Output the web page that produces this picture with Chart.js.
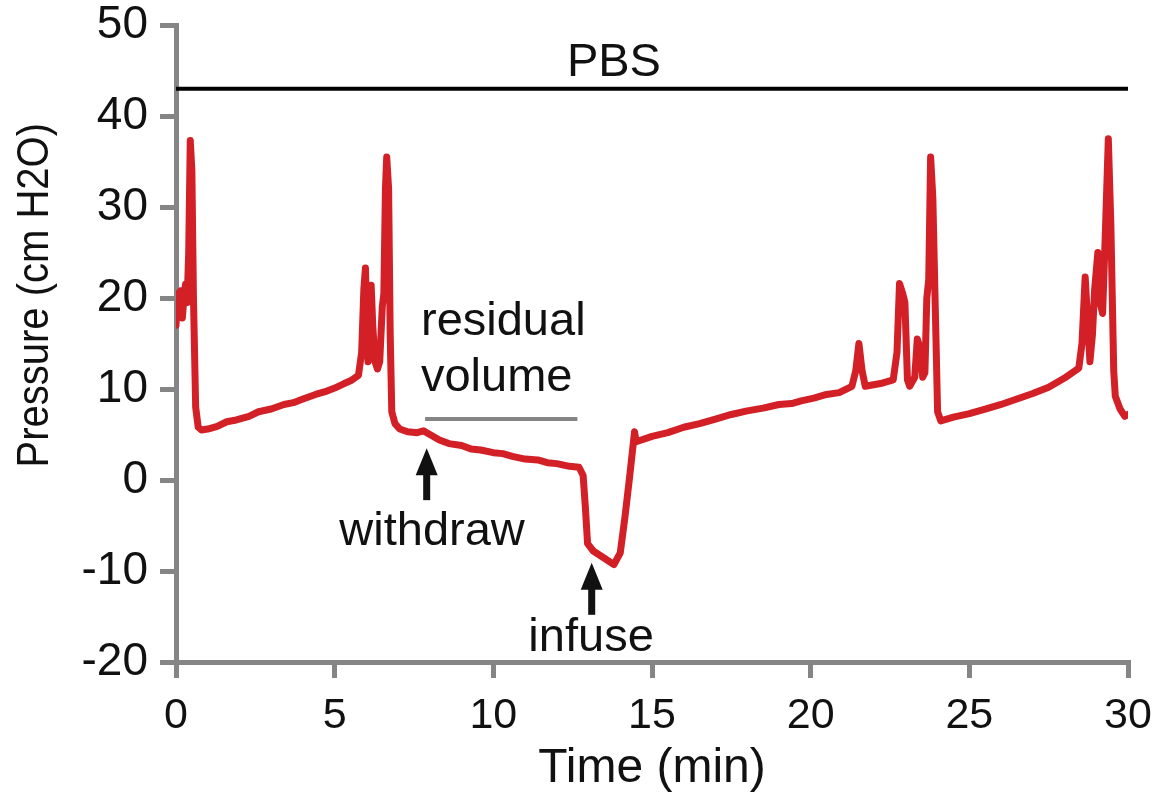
<!DOCTYPE html>
<html lang="en">
<head>
    <meta charset="utf-8" />
    <title>Bladder pressure - PBS</title>
    <script src="https://cdn.jsdelivr.net/npm/chart.js"></script>
    <style>
        html, body { margin: 0; padding: 0; background: #fff; }
        #wrap { width: 1169px; height: 798px; }
    </style>
</head>
<body>
<div id="wrap"><canvas id="pressureChart" width="1169" height="798"></canvas></div>

<script>
    // Pressure trace (time in min, pressure in cm H2O)
    var timeMin = [0.0, 0.05, 0.1, 0.15, 0.2, 0.25, 0.3, 0.35, 0.4, 0.45, 0.5, 0.55, 0.62, 0.7, 0.8,
        1.0, 1.3, 1.6, 1.9, 2.3, 2.6, 3.0, 3.4, 3.7, 4.0, 4.4, 4.7, 5.0, 5.3, 5.5, 5.75,
        5.85, 5.92, 5.97, 6.02, 6.05, 6.1, 6.15, 6.2, 6.27, 6.35, 6.42, 6.5, 6.55, 6.6, 6.64, 6.7, 6.75, 6.8, 6.9,
        7.05, 7.3, 7.6, 7.8, 8.0, 8.3, 8.6, 9.0, 9.3, 9.6, 10.0, 10.3, 10.6, 11.0, 11.4, 11.7, 12.0, 12.4, 12.7,
        12.83, 12.9, 12.97, 13.15, 13.5, 13.8, 14.0, 14.15, 14.3, 14.45, 14.5,
        15.0, 15.5, 16.0, 16.5, 17.0, 17.5, 18.0, 18.5, 19.0, 19.4, 19.7, 20.1, 20.5, 20.9, 21.3,
        21.42, 21.52, 21.62, 21.72, 22.2, 22.6, 22.72, 22.8, 22.9, 22.97, 23.05, 23.12, 23.28, 23.36, 23.45, 23.53,
        23.6, 23.66, 23.72, 23.78, 23.85, 23.92, 24.0, 24.1,
        24.5, 25.0, 25.5, 26.0, 26.5, 27.0, 27.5, 28.0, 28.45,
        28.55, 28.65, 28.72, 28.8, 28.88, 28.95, 29.05, 29.12, 29.2, 29.28, 29.38, 29.46, 29.55, 29.6, 29.75, 29.9, 30.0];
    var pressure = [17.0, 20.5, 18.0, 20.8, 17.8, 20.0, 21.5, 19.5, 25.0, 37.3, 34.0, 20.0, 8.0, 5.8, 5.5,
        5.6, 5.9, 6.4, 6.6, 7.0, 7.5, 7.8, 8.3, 8.5, 8.9, 9.4, 9.7, 10.1, 10.6, 10.9, 11.5,
        14.0, 21.0, 23.3, 16.0, 13.0, 19.0, 21.4, 17.0, 13.0, 12.2, 13.0, 19.0, 20.5, 32.0, 35.5, 32.0, 16.0, 7.5, 6.2,
        5.6, 5.3, 5.2, 5.4, 5.0, 4.4, 4.0, 3.8, 3.4, 3.3, 3.0, 2.9, 2.6, 2.3, 2.2, 1.9, 1.8, 1.5, 1.4,
        0.5, -3.0, -7.0, -7.8, -8.6, -9.3, -8.0, -4.0, 0.5, 5.3, 4.2,
        4.8, 5.2, 5.8, 6.2, 6.7, 7.2, 7.6, 7.9, 8.3, 8.4, 8.7, 9.0, 9.4, 9.6, 10.3,
        12.0, 15.0, 12.0, 10.3, 10.6, 11.0, 14.0, 21.6, 20.5, 19.5, 11.0, 10.3, 11.3, 15.5, 14.5, 11.3,
        11.8, 20.0, 22.0, 35.5, 31.0, 20.0, 7.5, 6.5,
        6.9, 7.3, 7.8, 8.3, 8.9, 9.5, 10.2, 11.2, 12.3,
        15.0, 22.3, 18.0, 13.0, 16.0, 21.0, 25.0, 19.5, 18.3, 26.5, 37.5, 28.0, 12.0, 9.2, 7.8, 7.0, 7.2];

    // Bars and labels drawn over the trace
    var pbsSpan = [0, 30];
    var pbsLevel = 43;
    var residualSpan = [7.85, 12.65];
    var residualLevel = 6.7;
    var withdrawAt = [7.9, 3.5];
    var infuseAt = [13.1, -9.1];

    var xTicks = [0, 5, 10, 15, 20, 25, 30];
    var yTicks = [-20, -10, 0, 10, 20, 30, 40, 50];

    var FONT = '"Liberation Sans", Arial, Helvetica, sans-serif';
    var GREY = '#858585';

    var tracePoints = timeMin.map(function (t, i) { return { x: t, y: pressure[i] }; });

    // draws the arrows, the y title and the text notes
    var notesPlugin = {
        id: 'notes',
        afterDatasetsDraw: function (chart) {
            var ctx = chart.ctx;
            var xs = chart.scales.x, ys = chart.scales.y;
            function px(t) { return xs.getPixelForValue(t); }
            function py(v) { return ys.getPixelForValue(v); }

            ctx.save();
            ctx.fillStyle = '#111';
            ctx.font = '47px ' + FONT;
            ctx.textBaseline = 'alphabetic';

            ctx.textAlign = 'center';
            ctx.fillText('PBS', px(13.8), py(44.4));
            ctx.fillText('withdraw', px(8.07), py(-7.1));
            ctx.fillText('infuse', px(13.08), py(-18.8));

            ctx.textAlign = 'left';
            ctx.fillText('residual', px(7.72), py(15.9));
            ctx.fillText('volume', px(7.72), py(9.8));

            function arrow(t, v) {
                var x = px(t), y = py(v);
                ctx.beginPath();
                ctx.moveTo(x, y);
                ctx.lineTo(x - 11, y + 27);
                ctx.lineTo(x + 11, y + 27);
                ctx.closePath();
                ctx.fill();
                ctx.fillRect(x - 3.5, y + 20, 7, 32);
            }
            arrow(withdrawAt[0], withdrawAt[1]);
            arrow(infuseAt[0], infuseAt[1]);

            // y axis title, a bit narrow and tall like the original
            ctx.translate(36, py(20.3));
            ctx.rotate(-Math.PI / 2);
            ctx.scale(1, 1.12);
            ctx.textAlign = 'center';
            ctx.textBaseline = 'middle';
            ctx.font = '40px ' + FONT;
            ctx.fillText('Pressure (cm H2O)', 0, 0);
            ctx.restore();
        }
    };

    var ctx = document.getElementById('pressureChart').getContext('2d');
    var pressureChart = new Chart(ctx, {
        type: 'line',
        data: {
            datasets: [{
                label: 'PBS',
                data: [{ x: pbsSpan[0], y: pbsLevel }, { x: pbsSpan[1], y: pbsLevel }],
                borderColor: '#000',
                borderWidth: 4,
                pointRadius: 0
            }, {
                label: 'residual volume',
                data: [{ x: residualSpan[0], y: residualLevel }, { x: residualSpan[1], y: residualLevel }],
                borderColor: GREY,
                borderWidth: 4,
                pointRadius: 0
            }, {
                label: 'Pressure',
                data: tracePoints,
                borderColor: '#d31f26',
                borderWidth: 7,
                borderJoinStyle: 'round',
                borderCapStyle: 'round',
                pointRadius: 0,
                tension: 0
            }]
        },
        options: {
            responsive: false,
            animation: false,
            events: [],
            layout: { padding: { top: 25, right: 41, bottom: 0, left: 0 } },
            plugins: {
                legend: { display: false },
                tooltip: { enabled: false }
            },
            scales: {
                x: {
                    type: 'linear',
                    min: 0,
                    max: 30,
                    afterFit: function (scale) { scale.height = 136; },
                    afterBuildTicks: function (scale) {
                        scale.ticks = xTicks.map(function (v) { return { value: v }; });
                    },
                    grid: { drawOnChartArea: false, drawTicks: true, tickLength: 16, color: GREY, lineWidth: 5 },
                    border: { display: true, color: GREY, width: 5 },
                    ticks: { color: '#111', font: { family: FONT, size: 43 }, padding: 12, maxRotation: 0 },
                    title: {
                        display: true,
                        text: 'Time (min)',
                        color: '#111',
                        font: { family: FONT, size: 48 },
                        padding: { top: 0, bottom: 0 }
                    }
                },
                y: {
                    type: 'linear',
                    min: -20,
                    max: 50,
                    afterFit: function (scale) {
                        scale.width = 176;
                        scale.paddingTop = 0;
                    },
                    afterBuildTicks: function (scale) {
                        scale.ticks = yTicks.map(function (v) { return { value: v }; });
                    },
                    grid: { drawOnChartArea: false, drawTicks: true, tickLength: 16, color: GREY, lineWidth: 5 },
                    border: { display: true, color: GREY, width: 5 },
                    ticks: { color: '#111', font: { family: FONT, size: 46 }, padding: 12 }
                }
            }
        },
        plugins: [notesPlugin]
    });
</script>
</body>
</html>
